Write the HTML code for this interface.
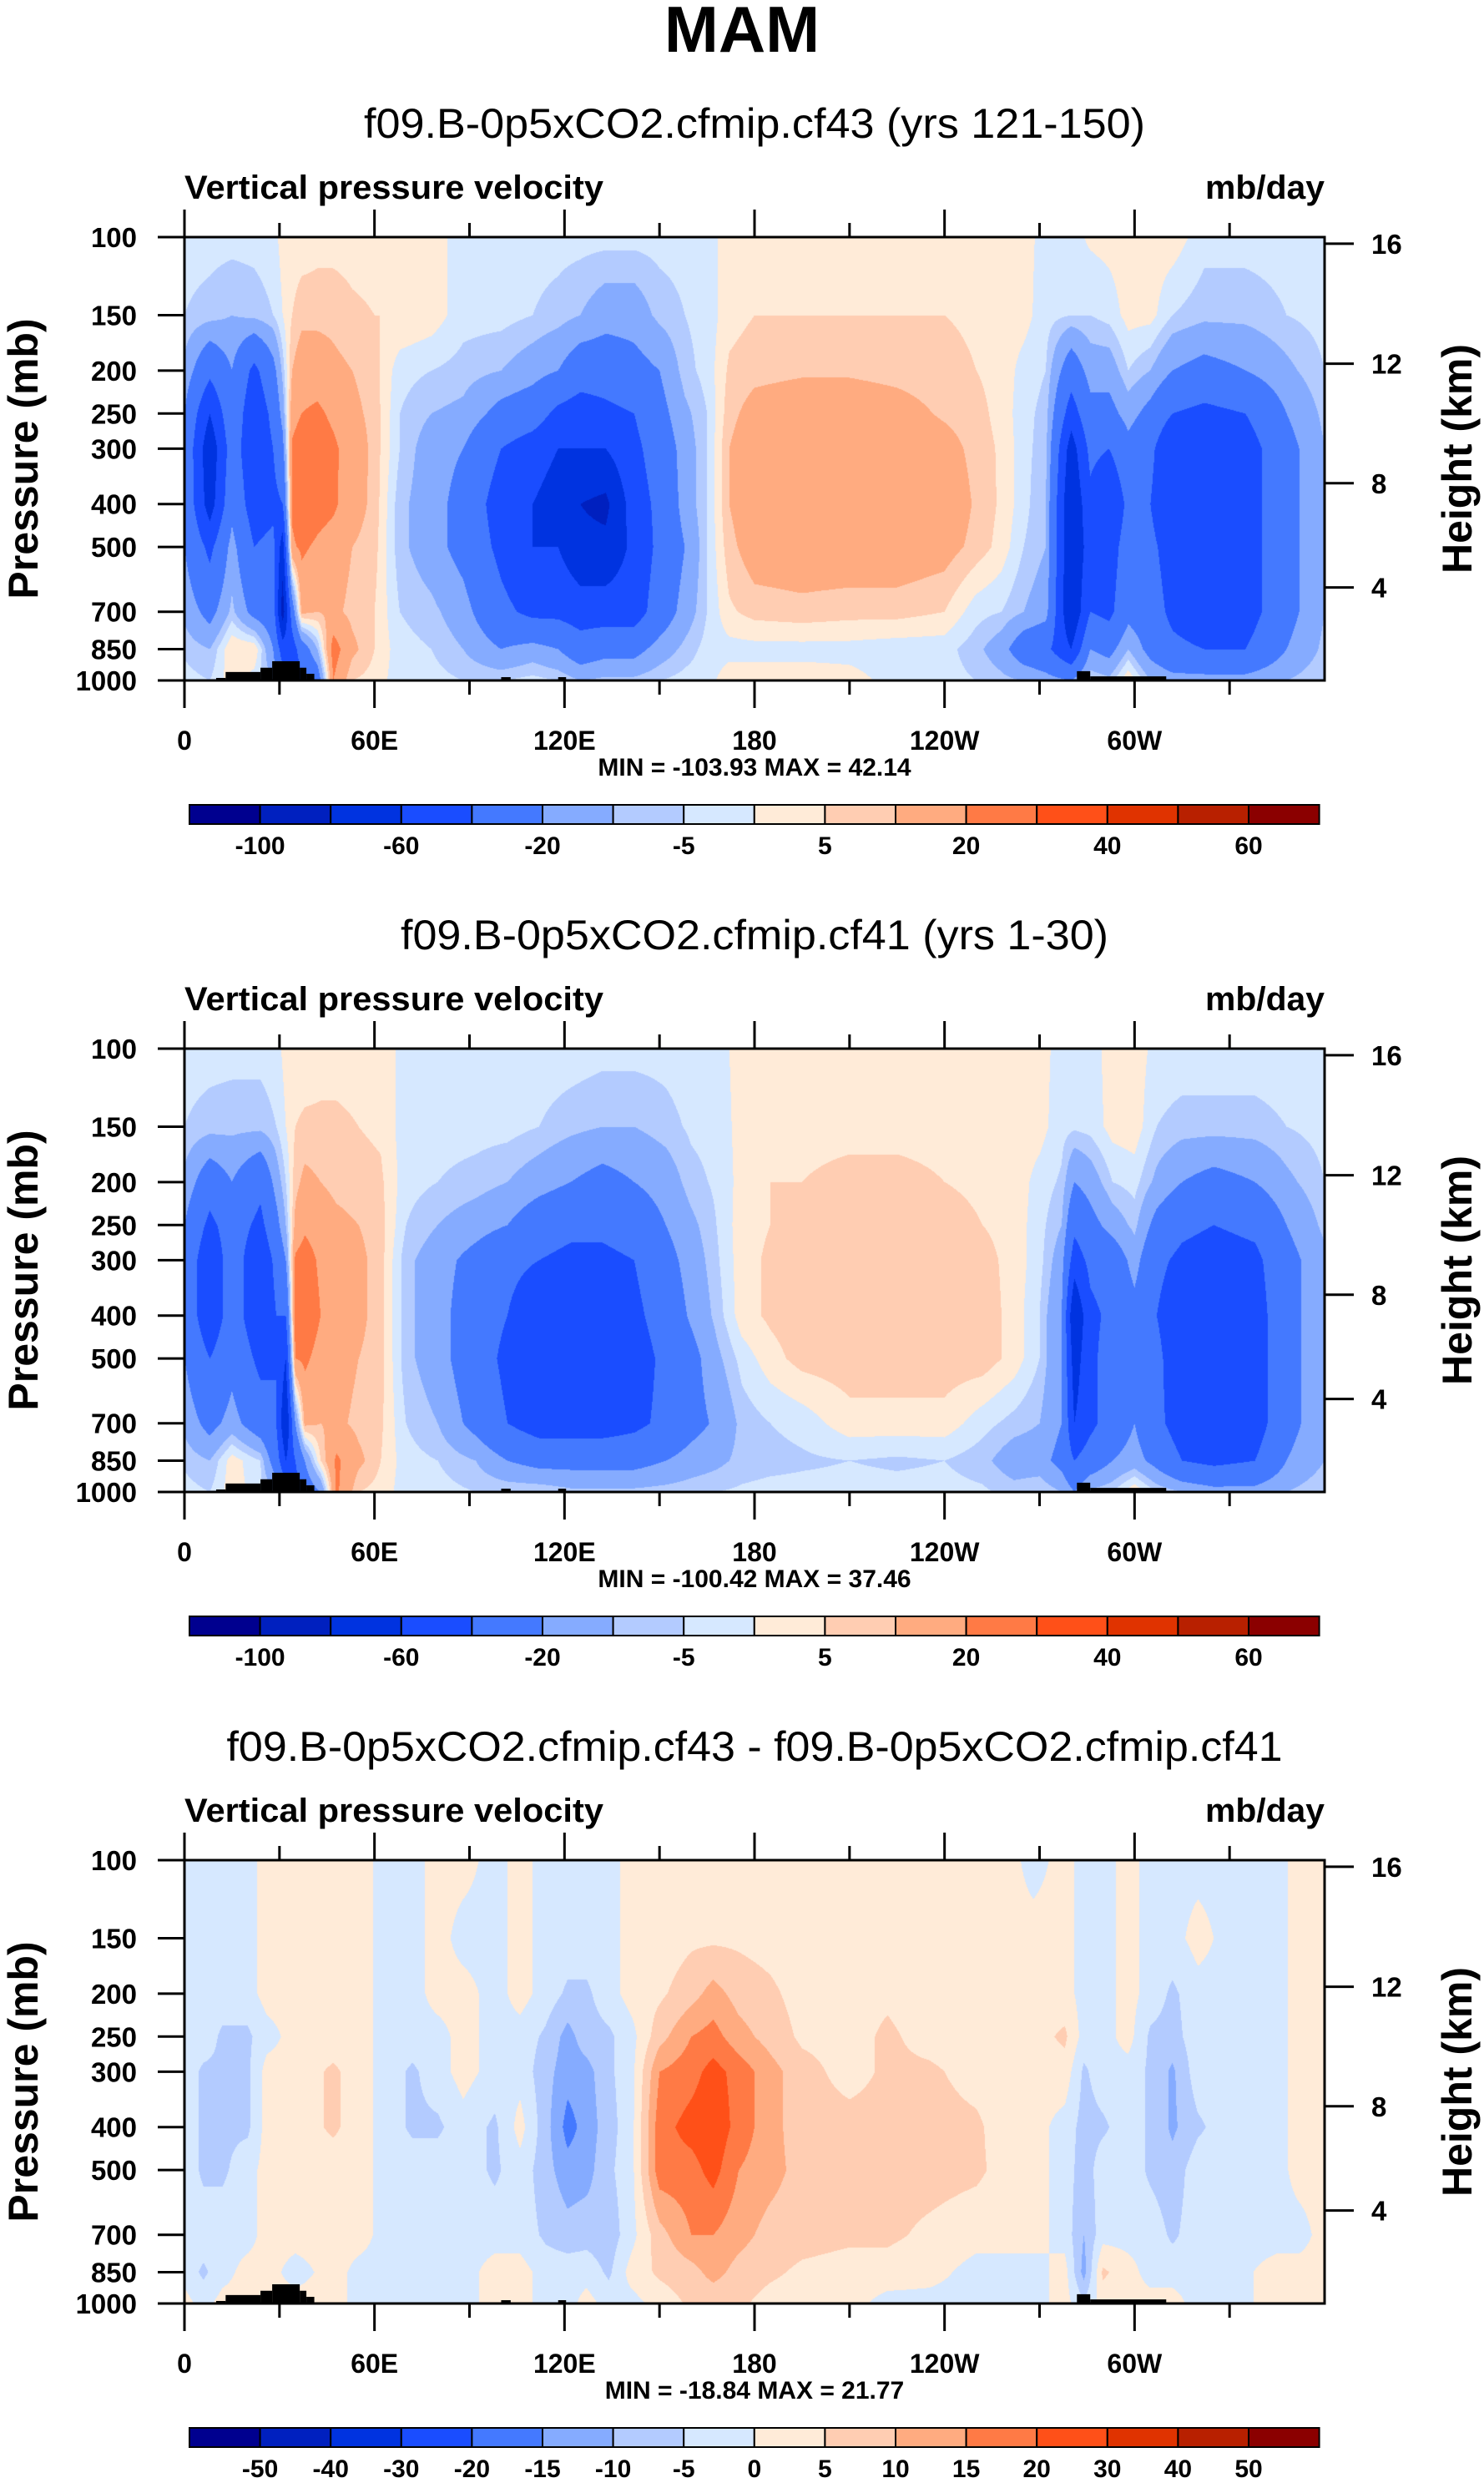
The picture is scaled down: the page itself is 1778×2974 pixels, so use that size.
<!DOCTYPE html>
<html><head><meta charset="utf-8">
<style>
html,body{margin:0;padding:0;background:#fff;}
#root{position:relative;width:1778px;height:2974px;overflow:hidden;background:#fff;}
canvas{position:absolute;}
svg{position:absolute;left:0;top:0;}
</style></head>
<body>
<div id="root">
<canvas id="c0" width="1366" height="531" style="left:221px;top:284px"></canvas>
<canvas id="c1" width="1366" height="531" style="left:221px;top:1256px"></canvas>
<canvas id="c2" width="1366" height="531" style="left:221px;top:2228px"></canvas>
<svg id="ov" width="1778" height="2974"></svg>
</div>
<script>
// ---- data ----
const levels = [100,150,200,250,300,400,500,700,850,1000];
const lons1 = [0,8,15,22,28,31,34,37,42,47,53,60,68,78,88,100,110,118,125,133,142,150,158,165,172,180,195,210,225,240,250,258,265,272,280,286,292,298,305,312,322,335,348,360];
const vals1 = [
[-3,-5,-12,-20,-22,-22,-20,-12,-6,-3],
[-3,-7,-35,-60,-75,-70,-45,-25,-10,-5],
[-3,-10,-20,-25,-30,-25,-15,-8,5,3],
[-3,-8,-45,-55,-55,-50,-40,-25,5,-3],
[-2,-5,-25,-35,-40,-45,-35,-30,-20,-10],
[2,0,-8,-15,-25,-40,-70,-90,-50,-30],
[2,5,10,15,22,22,18,-30,-50,-60],
[2,8,15,20,28,30,22,12,-30,-40],
[3,8,15,22,25,25,18,10,-10,-30],
[3,8,12,18,22,22,15,12,25,20],
[3,6,10,12,15,14,10,8,12,5],
[3,5,7,8,8,8,7,5,5,3],
[3,5,-3,-5,-5,-8,-8,-5,-3,-3],
[3,3,-5,-10,-15,-15,-15,-8,-5,-3],
[-3,-3,-7,-12,-20,-25,-25,-15,-10,-5],
[-3,-3,-10,-25,-40,-50,-45,-35,-20,-5],
[-3,-5,-15,-30,-50,-60,-60,-45,-15,-3],
[-3,-7,-20,-45,-60,-70,-60,-45,-20,-5],
[-3,-10,-30,-50,-60,-80,-75,-50,-30,-10],
[-3,-15,-30,-45,-60,-85,-75,-50,-25,-8],
[-3,-15,-25,-40,-45,-50,-55,-50,-25,-8],
[-3,-8,-20,-25,-30,-35,-35,-30,-15,-5],
[-3,-5,-7,-12,-15,-15,-20,-15,-8,-3],
[-2,-3,-3,-5,-5,-5,-5,-5,-3,-2],
[2,3,6,8,10,10,8,4,-2,3],
[3,5,8,13,16,16,14,7,-2,3],
[3,5,9,15,17,17,15,8,-2,3],
[3,5,9,15,17,17,15,7,-2,2],
[3,5,8,13,16,16,15,7,-3,-2],
[3,5,7,9,13,16,13,5,-3,-3],
[3,4,5,7,8,9,8,-3,-8,-5],
[3,3,3,3,4,4,3,-5,-15,-8],
[2,2,-2,-3,-3,-3,-5,-10,-30,-10],
[-2,-3,-5,-7,-8,-10,-10,-15,-35,-15],
[-2,-5,-30,-50,-70,-80,-80,-80,-60,-20],
[1,-5,-15,-25,-35,-45,-50,-40,-20,-5],
[2,-3,-15,-25,-40,-60,-50,-45,-25,-8],
[3,2,-5,-15,-25,-35,-30,-25,-10,5],
[3,2,-10,-25,-35,-40,-35,-30,-25,-10],
[3,-5,-20,-40,-60,-60,-50,-45,-35,-15],
[-3,-8,-25,-45,-55,-45,-50,-55,-40,-15],
[-3,-8,-20,-40,-50,-50,-50,-50,-40,-15],
[-3,-5,-12,-20,-25,-25,-25,-25,-20,-10],
[-3,-3,-5,-8,-10,-10,-10,-10,-8,-5]];
const lons2 = [0,8,15,24,29,32,35,38,43,48,55,62,70,80,92,102,112,122,132,142,152,160,168,176,185,195,210,225,240,252,262,270,277,281,286,293,300,307,315,325,338,348,360];
const vals2 = [
[-3,-5,-12,-20,-25,-25,-20,-12,-6,-3],
[-3,-7,-30,-45,-55,-55,-40,-25,-10,-5],
[-3,-8,-20,-30,-30,-30,-25,-15,3,3],
[-3,-8,-35,-45,-55,-55,-45,-30,-5,-3],
[-2,-5,-15,-25,-35,-40,-40,-40,-30,-10],
[2,0,-5,-10,-20,-40,-60,-80,-60,-30],
[2,5,8,12,22,25,20,-20,-40,-50],
[2,6,12,18,25,28,22,12,-20,-30],
[3,6,10,15,18,20,16,10,5,-20],
[3,6,8,12,15,16,14,12,22,22],
[3,5,7,10,12,12,10,8,12,5],
[3,4,6,7,7,7,7,6,5,3],
[-2,-3,-3,-5,-8,-8,-8,-5,-3,-3],
[-2,-3,-5,-10,-15,-15,-15,-10,-5,-3],
[-2,-3,-7,-15,-25,-30,-30,-25,-10,-5],
[-2,-3,-10,-20,-35,-40,-45,-40,-20,-5],
[-2,-5,-15,-30,-40,-55,-55,-50,-25,-5],
[-2,-8,-20,-35,-45,-55,-55,-50,-25,-8],
[-3,-10,-25,-35,-45,-55,-55,-50,-25,-8],
[-3,-10,-20,-30,-40,-45,-50,-45,-25,-8],
[-3,-7,-15,-20,-25,-30,-35,-35,-20,-7],
[-2,-4,-7,-12,-15,-18,-25,-25,-15,-6],
[-2,-3,-4,-5,-6,-8,-12,-18,-12,-5],
[2,2,2,3,3,3,-3,-8,-8,-4],
[3,4,5,5,6,6,3,-5,-7,-3],
[3,4,5,7,8,8,7,-3,-6,-3],
[3,4,6,8,8,8,8,3,-5,-3],
[3,4,6,8,8,8,8,3,-6,-3],
[3,4,5,7,7,8,8,3,-5,-3],
[3,4,4,5,7,8,8,-3,-8,-4],
[3,3,3,3,3,3,3,-7,-15,-7],
[2,2,-2,-3,-3,-5,-5,-10,-15,-5],
[-2,-3,-6,-10,-15,-20,-20,-20,-25,-10],
[-2,-4,-20,-35,-50,-80,-70,-60,-40,-20],
[-2,-3,-15,-25,-35,-45,-45,-45,-30,-8],
[2,2,-5,-15,-30,-35,-30,-30,-20,-5],
[3,3,-3,-8,-15,-25,-20,-20,-15,5],
[-2,-5,-12,-25,-35,-40,-35,-35,-25,-5],
[-2,-7,-20,-35,-45,-55,-55,-50,-40,-10],
[-2,-7,-25,-40,-50,-55,-55,-50,-45,-15],
[-2,-7,-20,-35,-45,-50,-50,-50,-40,-15],
[-2,-5,-12,-20,-25,-25,-25,-25,-20,-10],
[-3,-3,-5,-8,-12,-12,-12,-12,-10,-5]];
const lons3 = [0,6,12,20,26,35,47,56,63,72,80,88,98,106,114,121,127,134,141,150,160,167,175,185,195,210,222,235,250,260,268,278,284,290,298,305,312,320,330,345,352,360];
const vals3 = [
[-2,-2,-2,-2,-2,-2,-2,-2,-2,2],
[-2,-2,-2,-2,-6,-6,-6,-2,-6,-2],
[-2,-2,-2,-6,-6,-6,-6,-2,-2,2],
[-2,-2,-2,-6,-6,-6,-2,-2,2,2],
[2,2,2,-2,2,2,2,2,2,2],
[2,2,2,2,2,2,2,2,-2,2],
[2,2,2,2,6,6,2,2,2,2],
[2,2,2,2,2,2,2,2,-2,-2],
[-2,-2,-2,-2,-2,-2,-2,-2,-2,-2],
[-2,-2,-2,-2,-6,-6,-2,-2,-2,-2],
[2,2,2,-2,-2,-6,-2,-2,-2,-2],
[2,-2,2,2,2,-2,-2,-2,-2,-2],
[-2,-2,-2,-2,-2,-6,-6,-2,2,2],
[2,2,2,-2,-2,2,-2,-2,2,2],
[-2,-2,-2,-6,-8,-8,-8,-6,-2,-2],
[-2,-2,-6,-12,-13,-17,-13,-8,-2,-2],
[-2,-2,-6,-7,-12,-13,-12,-7,-2,2],
[-2,-2,-2,-6,-6,-7,-6,-8,-6,-2],
[2,2,2,-2,-2,-2,-2,-2,2,-2],
[2,2,4,8,15,18,18,8,6,2],
[2,4,8,15,18,22,18,15,8,6],
[2,4,12,17,22,24,22,15,12,6],
[2,4,8,12,18,18,15,12,8,6],
[2,3,6,8,12,12,12,8,6,3],
[2,2,3,4,7,7,8,7,4,2],
[2,2,3,3,3,7,7,6,3,2],
[2,2,4,6,6,7,7,6,3,-2],
[2,2,2,3,6,7,7,4,2,-2],
[2,2,2,2,3,6,6,2,-2,-2],
[2,2,2,2,2,2,3,2,-2,-2],
[-2,2,2,3,2,2,2,2,-2,-2],
[2,2,2,6,3,-2,-2,-2,2,2],
[-2,-2,-2,-2,-6,-7,-8,-10,-12,-4],
[-2,-2,-2,-2,-2,-6,-2,-2,6,2],
[2,2,2,2,-2,-2,-2,-2,2,2],
[-2,-2,-2,-6,-6,-6,-6,-2,-2,2],
[-2,-2,-6,-7,-11,-11,-8,-6,-2,2],
[-2,2,-2,-2,-2,-6,-2,-2,-2,-2],
[-2,-2,-2,-2,-2,-2,-2,-2,-2,-2],
[-2,-2,-2,-2,-2,-2,-2,-2,2,2],
[2,2,2,2,2,2,2,-2,2,2],
[2,2,2,2,2,2,2,2,2,2]];
const bounds12 = [-100,-80,-60,-40,-20,-10,-5,0,5,10,20,30,40,50,60];
const bounds3 = [-50,-40,-30,-20,-15,-10,-5,0,5,10,15,20,30,40,50];
const cbLabels12 = ['-100','','-60','','-20','','-5','','5','','20','','40','','60'];
const cbLabels3 = ['-50','-40','-30','-20','-15','-10','-5','0','5','10','15','20','30','40','50'];
const palette = ['#00008f','#0020bf','#0033e0','#1a4dff','#4479ff','#85abff','#b3cbff','#d6e8ff','#ffebd8','#ffcdb2','#ffab80','#ff7a45','#ff5018','#e03300','#b82000','#8b0000'];
const titles = ['f09.B-0p5xCO2.cfmip.cf43 (yrs 121-150)','f09.B-0p5xCO2.cfmip.cf41 (yrs 1-30)','f09.B-0p5xCO2.cfmip.cf43 - f09.B-0p5xCO2.cfmip.cf41'];
const titleWidths = [936,848,1265];
const minmax = ['MIN = -103.93  MAX =  42.14','MIN = -100.42  MAX =  37.46','MIN = -18.84  MAX = 21.77'];
const xTickLons = [0,60,120,180,240,300];
const xTickLabels = ['0','60E','120E','180','120W','60W'];
const pTicks = [100,150,200,250,300,400,500,700,850,1000];
const zTickLabels = ['16','12','8','4'];
const zTickPressure = [103.5,193,359,617];
const terrainLon0 = [10,13,24,27.7,36.4,38.5,100,118,281.8,286];
const terrainLon1 = [13,24,27.7,36.4,38.5,41,103,120.5,286,310];
const terrainP = [987,957,936,905,936,966,983,983,953,979];

// ---- geometry ----
const PL=221, PW=1366, PH=531, TOPS=[284,1256,2228];
const xOf = lon => PL + lon/360*PW;
const yOf = (p,top) => top + Math.log(p/100)/Math.log(10)*PH;

function classOf(v,b){let i=0;while(i<b.length && v>=b[i])i++;return i;}
function hex(h){return [parseInt(h.substr(1,2),16),parseInt(h.substr(3,2),16),parseInt(h.substr(5,2),16)];}
const rgb = palette.map(hex);

function drawField(cid,lons,vals,b){
  const cv=document.getElementById(cid), ctx=cv.getContext('2d');
  const img=ctx.createImageData(PW,PH), d=img.data;
  const lnl=levels.map(p=>Math.log(p));
  const rowI=[],rowT=[];
  for(let y=0;y<PH;y++){
    const lp=Math.log(100)+ (y+0.5)/PH*Math.log(10);
    let k=0; while(k<levels.length-2 && lp>lnl[k+1])k++;
    let t=(lp-lnl[k])/(lnl[k+1]-lnl[k]); t=Math.max(0,Math.min(1,t));
    rowI.push(k);rowT.push(t);
  }
  for(let x=0;x<PW;x++){
    const lon=(x+0.5)/PW*360;
    let j=0; while(j<lons.length-2 && lon>lons[j+1])j++;
    let s=(lon-lons[j])/(lons[j+1]-lons[j]); s=Math.max(0,Math.min(1,s));
    const A=vals[j],B=vals[j+1];
    for(let y=0;y<PH;y++){
      const k=rowI[y],t=rowT[y];
      const v0=A[k]*(1-t)+A[k+1]*t, v1=B[k]*(1-t)+B[k+1]*t;
      const v=v0*(1-s)+v1*s;
      const c=rgb[classOf(v,b)];
      const o=(y*PW+x)*4;
      d[o]=c[0];d[o+1]=c[1];d[o+2]=c[2];d[o+3]=255;
    }
  }
  ctx.putImageData(img,0,0);
}
drawField('c0',lons1,vals1,bounds12);
drawField('c1',lons2,vals2,bounds12);
drawField('c2',lons3,vals3,bounds3);

// ---- overlay ----
const NS='http://www.w3.org/2000/svg', svg=document.getElementById('ov');
function el(tag,attrs,text){const e=document.createElementNS(NS,tag);for(const k in attrs)e.setAttribute(k,attrs[k]);if(text!==undefined)e.textContent=text;svg.appendChild(e);return e;}
const F='"Liberation Sans", Arial, sans-serif';

let t=el('text',{x:889,y:62,'text-anchor':'middle','font-family':F,'font-weight':'bold','font-size':78});
t.textContent='MAM';



for(let i=0;i<3;i++){
  const top=TOPS[i], dy=i*972, bot=top+PH;
  const b = i<2?bounds12:bounds3, cbl = i<2?cbLabels12:cbLabels3;
  for(let k=0;k<terrainLon0.length;k++){
    const x0=xOf(terrainLon0[k]), x1=xOf(terrainLon1[k]), yt=yOf(terrainP[k],top);
    const r=el('rect',{x:x0,y:yt,width:x1-x0,height:bot-yt,fill:'#000'});
    
    
  }
  const fr=el('rect',{x:PL,y:top,width:PW,height:PH,fill:'none',stroke:'#000','stroke-width':3});
  
  
  for(let lon=0;lon<=330;lon+=30){
    const x=xOf(lon), major=lon%60===0, L=major?33:17;
    el('line',{x1:x,y1:top,x2:x,y2:top-L,stroke:'#000','stroke-width':3});
    el('line',{x1:x,y1:bot,x2:x,y2:bot+L,stroke:'#000','stroke-width':3});
  }
  xTickLabels.forEach((s,k)=>{
    const tx=el('text',{x:xOf(xTickLons[k]),y:bot+83,'text-anchor':'middle','font-family':F,'font-weight':'bold','font-size':32},s);
    
    
  });
  pTicks.forEach(p=>{
    const y=yOf(p,top);
    el('line',{x1:189,y1:y,x2:PL,y2:y,stroke:'#000','stroke-width':3});
    const tx=el('text',{x:164,y:y+12,'text-anchor':'end','font-family':F,'font-weight':'bold','font-size':33},String(p));
    
    
  });
  zTickPressure.forEach((p,k)=>{
    const y=yOf(p,top);
    el('line',{x1:PL+PW,y1:y,x2:1622,y2:y,stroke:'#000','stroke-width':3});
    const tx=el('text',{x:1643,y:y+12,'font-family':F,'font-weight':'bold','font-size':33},zTickLabels[k]);
    
    
  });
  let st=el('text',{x:904,y:165+dy,'text-anchor':'middle','font-family':F,'font-size':50,textLength:titleWidths[i],lengthAdjust:'spacingAndGlyphs'},titles[i]);
  
  
  let lt=el('text',{x:221,y:238+dy,'font-family':F,'font-weight':'bold','font-size':40,textLength:502,lengthAdjust:'spacingAndGlyphs'},'Vertical pressure velocity');
  
  
  let ut=el('text',{x:1444,y:238+dy,'font-family':F,'font-weight':'bold','font-size':40,textLength:143,lengthAdjust:'spacingAndGlyphs'},'mb/day');
  
  
  let mm=el('text',{x:904,y:929+dy,'text-anchor':'middle','font-family':F,'font-weight':'bold','font-size':30},minmax[i]);
  
  
  const yc=(top+bot)/2;
  let pa=el('text',{x:0,y:0,'text-anchor':'middle','font-family':F,'font-weight':'bold','font-size':50,transform:`translate(45,${yc}) rotate(-90)`},'Pressure (mb)');
  
  
  let ha=el('text',{x:0,y:0,'text-anchor':'middle','font-family':F,'font-weight':'bold','font-size':50,transform:`translate(1763,${yc}) rotate(-90)`},'Height (km)');
  
  
  const cbx=227, cbw=84.6, cby=964+dy, cbh=23;
  palette.forEach((c,k)=>{
    const r=el('rect',{x:cbx+k*cbw,y:cby,width:cbw,height:cbh,fill:c,stroke:'#000','stroke-width':2});
    
    
  });
  cbl.forEach((s,k)=>{
    if(!s)return;
    const tx=el('text',{x:cbx+(k+1)*cbw,y:1023+dy,'text-anchor':'middle','font-family':F,'font-weight':'bold','font-size':30},s);
    
    
  });
}
</script>
</body></html>
